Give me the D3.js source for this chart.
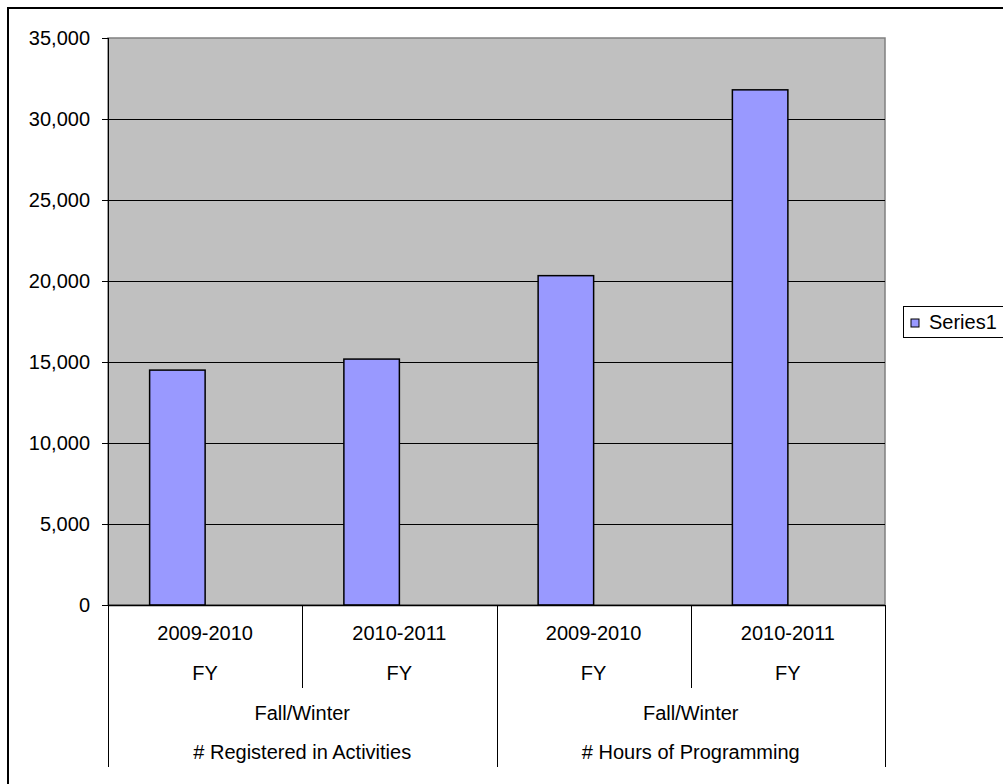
<!DOCTYPE html>
<html>
<head>
<meta charset="utf-8">
<script src="https://cdn.jsdelivr.net/npm/d3@7"></script>
<style>
html,body{margin:0;padding:0;background:#fff;}
svg{display:block;font-family:"Liberation Sans",Arial,sans-serif;}
</style>
</head>
<body>
<script>
// ---- data ----
const categories = ["2009-2010 FY A", "2010-2011 FY A", "2009-2010 FY B", "2010-2011 FY B"];
const categoryLines = [["2009-2010", "FY"], ["2010-2011", "FY"], ["2009-2010", "FY"], ["2010-2011", "FY"]];
const groupLines = [["Fall/Winter", "# Registered in Activities"], ["Fall/Winter", "# Hours of Programming"]];
const groupSizes = [2, 2];
const seriesNames = ["Series1", ""];
const series1 = [14500, 15180, 20330, 31800];
const yTicks = [0, 5000, 10000, 15000, 20000, 25000, 30000, 35000];

// ---- layout ----
const W = 1003, H = 784;
const plot = {left: 108, right: 885, top: 38, bottom: 605};

const svg = d3.select("body").append("svg").attr("width", W).attr("height", H);

// outer chart border (extends past right and bottom edges)
svg.append("rect").attr("x", 8).attr("y", 8).attr("width", 1100).attr("height", 900)
  .attr("fill", "#fff").attr("stroke", "#000").attr("stroke-width", 2);

const x = d3.scaleBand().domain(categories).range([plot.left, plot.right]).paddingInner(0).paddingOuter(0);
const xs = d3.scaleBand().domain(seriesNames).range([0, x.bandwidth()]).paddingInner(0).paddingOuter(0.75);
const y = d3.scaleLinear().domain([0, 35000]).range([plot.bottom, plot.top]);

// plot background
svg.append("rect").attr("x", plot.left).attr("y", plot.top)
  .attr("width", plot.right - plot.left).attr("height", plot.bottom - plot.top)
  .attr("fill", "#c0c0c0").attr("stroke", "#808080").attr("stroke-width", 1.5);

// gridlines
svg.append("g").selectAll("line").data(yTicks.filter(t => t > 0 && t < 35000)).join("line")
  .attr("x1", plot.left).attr("x2", plot.right)
  .attr("y1", d => Math.round(y(d)) + 0.5).attr("y2", d => Math.round(y(d)) + 0.5)
  .attr("stroke", "#000").attr("stroke-width", 1);

// bars
svg.append("g").selectAll("rect").data(series1).join("rect")
  .attr("x", (d, i) => x(categories[i]) + xs("Series1"))
  .attr("width", xs.bandwidth())
  .attr("y", d => y(d))
  .attr("height", d => y(0) - y(d))
  .attr("fill", "#9999ff").attr("stroke", "#000").attr("stroke-width", 1.5);

// y axis
const yAxis = d3.axisLeft(y).tickValues(yTicks).tickSize(6).tickPadding(12)
  .tickFormat(d3.format(","));
const yg = svg.append("g").attr("transform", `translate(${plot.left},0)`).call(yAxis);
yg.select(".domain").remove();
yg.selectAll(".tick line").attr("stroke", "#000");
yg.selectAll(".tick text").attr("font-size", 20).attr("fill", "#000")
  .attr("font-family", "Liberation Sans, Arial, sans-serif");

// category axis line (bottom)
svg.append("line").attr("x1", plot.left).attr("x2", plot.right)
  .attr("y1", plot.bottom + 0.5).attr("y2", plot.bottom + 0.5).attr("stroke", "#000").attr("stroke-width", 1.5);
// y axis line (extends down as separator)
const sepBottomLong = 767, sepBottomShort = 688;

// separators
const boundaries = [];
let idx = 0;
groupSizes.forEach((n, g) => {
  for (let k = 0; k <= n; k++) {
    const ci = idx + k;
    const xpos = ci < categories.length ? x(categories[ci]) : plot.right;
    const isGroupEdge = (k === 0 || k === n);
    boundaries.push({x: xpos, long: isGroupEdge});
  }
  idx += n;
});
svg.append("g").selectAll("line").data(boundaries).join("line")
  .attr("x1", d => Math.round(d.x) + 0.5).attr("x2", d => Math.round(d.x) + 0.5)
  .attr("y1", d => d.x === plot.left ? plot.top : plot.bottom)
  .attr("y2", d => d.long ? sepBottomLong : sepBottomShort)
  .attr("stroke", "#000").attr("stroke-width", 1);

// category labels
const catG = svg.append("g").attr("font-size", 20).attr("fill", "#000").attr("text-anchor", "middle");
categoryLines.forEach((lines, i) => {
  const cx = x(categories[i]) + x.bandwidth() / 2;
  lines.forEach((t, j) => {
    catG.append("text").attr("x", cx).attr("y", 640 + j * 40).text(t);
  });
});
// group labels
idx = 0;
groupLines.forEach((lines, g) => {
  const x0 = x(categories[idx]);
  const x1 = x(categories[idx + groupSizes[g] - 1]) + x.bandwidth();
  const cx = (x0 + x1) / 2;
  lines.forEach((t, j) => {
    catG.append("text").attr("x", cx).attr("y", 720 + j * 39).text(t);
  });
  idx += groupSizes[g];
});

// legend
const lg = svg.append("g");
lg.append("rect").attr("x", 903.5).attr("y", 306.5).attr("width", 150).attr("height", 31)
  .attr("fill", "#fff").attr("stroke", "#000").attr("stroke-width", 1);
lg.append("rect").attr("x", 911).attr("y", 319).attr("width", 8).attr("height", 8)
  .attr("fill", "#9999ff").attr("stroke", "#000").attr("stroke-width", 1);
lg.append("text").attr("x", 929).attr("y", 329).attr("font-size", 20).attr("fill", "#000").text(seriesNames[0]);
</script>
</body>
</html>
